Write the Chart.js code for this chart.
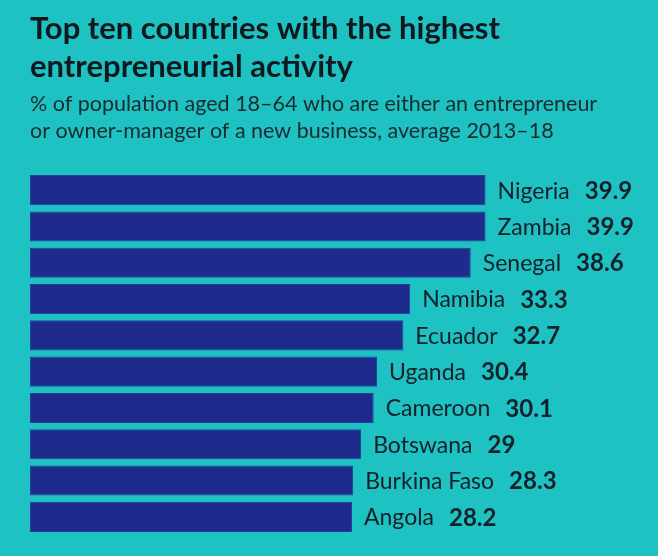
<!DOCTYPE html>
<html>
<head>
<meta charset="utf-8">
<script src="https://cdn.jsdelivr.net/npm/chart.js@4"></script>
<style>
  html, body { margin: 0; padding: 0; background: #1fc2c2; }
  #wrap { width: 658px; height: 556px; }
</style>
</head>
<body>
<div id="wrap"><canvas id="c" width="658" height="556"></canvas></div>
<script>
const countries = ["Nigeria", "Zambia", "Senegal", "Namibia", "Ecuador", "Uganda", "Cameroon", "Botswana", "Burkina Faso", "Angola"];
const values = [39.9, 39.9, 38.6, 33.3, 32.7, 30.4, 30.1, 29, 28.3, 28.2];
const titleLines = ["Top ten countries with the highest", "entrepreneurial activity"];
const subtitleLines = ["% of population aged 18\u201364 who are either an entrepreneur", "or owner-manager of a new business, average 2013\u201318"];

const BG = "#1fc2c2";
const BAR = "#1e2b8c";
const TEXT = "#14202a";
const FONT = "Lato";

const bgPlugin = {
  id: "bg",
  beforeDraw(chart) {
    const ctx = chart.ctx;
    ctx.save();
    ctx.fillStyle = BG;
    ctx.fillRect(0, 0, chart.width, chart.height);
    ctx.restore();
  }
};

const labelPlugin = {
  id: "barLabels",
  afterDatasetsDraw(chart) {
    const ctx = chart.ctx;
    const meta = chart.getDatasetMeta(0);
    ctx.save();
    ctx.textBaseline = "middle";
    ctx.textAlign = "left";
    ctx.fillStyle = TEXT;
    meta.data.forEach((el, i) => {
      const x0 = el.x + 12;
      const y = el.y + 1;
      ctx.font = "400 23px " + FONT;
      const name = chart.data.labels[i];
      ctx.fillText(name, x0, y);
      const w = ctx.measureText(name).width;
      ctx.font = "700 24px " + FONT;
      ctx.fillText(String(chart.data.datasets[0].data[i]), x0 + w + 15, y);
    });
    ctx.restore();
  }
};

new Chart(document.getElementById("c"), {
  type: "bar",
  data: {
    labels: countries,
    datasets: [{
      data: values,
      backgroundColor: BAR,
      borderColor: "#2a3f9c",
      borderWidth: 1,
      borderSkipped: false,
      barPercentage: 0.83,
      categoryPercentage: 1.0
    }]
  },
  options: {
    indexAxis: "y",
    responsive: false,
    animation: false,
    devicePixelRatio: 1,
    layout: { padding: { left: 30, right: 0, top: 0, bottom: 21 } },
    scales: {
      x: { display: false, min: 0, max: 55 },
      y: { display: false }
    },
    plugins: {
      legend: { display: false },
      tooltip: { enabled: false },
      title: {
        display: true,
        text: titleLines,
        align: "start",
        color: "#10181e",
        font: { family: FONT, size: 31, weight: "bold", lineHeight: "38px" },
        padding: { top: 10, bottom: 5 }
      },
      subtitle: {
        display: true,
        text: subtitleLines,
        align: "start",
        color: "#1a2a30",
        font: { family: FONT, size: 21.5, weight: "normal", lineHeight: "27px" },
        padding: { top: 0, bottom: 27 }
      }
    }
  },
  plugins: [bgPlugin, labelPlugin]
});
</script>
</body>
</html>
